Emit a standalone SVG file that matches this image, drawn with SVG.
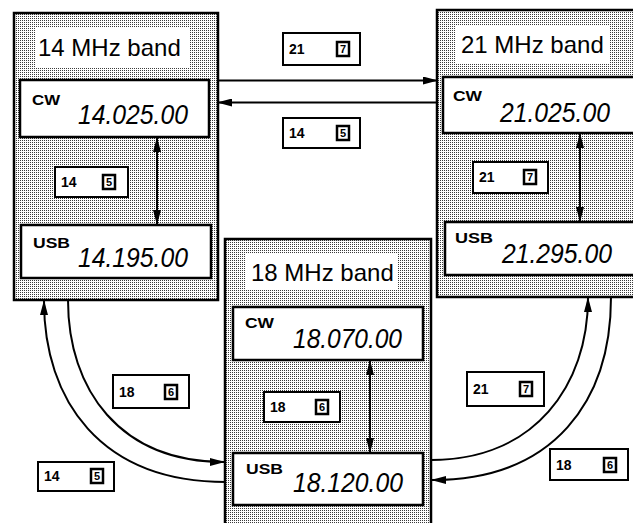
<svg xmlns="http://www.w3.org/2000/svg" width="633" height="523" viewBox="0 0 633 523">
<defs>
<pattern id="dots" width="2" height="2" patternUnits="userSpaceOnUse">
<rect width="2" height="2" fill="#ffffff"/>
<rect width="1" height="1" fill="#3a3a3a"/>
</pattern>
<marker id="ah" viewBox="0 0 15 8" refX="14" refY="4" markerWidth="15" markerHeight="8" markerUnits="userSpaceOnUse" orient="auto-start-reverse">
<path d="M0,0 L15,4 L0,8 Z" fill="#000"/>
</marker>
</defs>
<style>
.panel{fill:url(#dots);stroke:#000;stroke-width:2.5}
.box{fill:#fff;stroke:#000;stroke-width:2.5}
.title{fill:#fff;stroke:none}
.ttl{font-family:"Liberation Sans",Arial,sans-serif;font-size:24px;fill:#000}
.mode{font-family:"Liberation Sans",Arial,sans-serif;font-size:15px;font-weight:bold;fill:#000}
.freq{font-family:"Liberation Sans",Arial,sans-serif;font-size:28px;font-style:italic;fill:#000}
.conn{fill:none;stroke:#000;stroke-width:2}
.lbox{fill:#fff;stroke:#000;stroke-width:2}
.key{fill:#fff;stroke:#000;stroke-width:2.5}
.ln{font-family:"Liberation Sans",Arial,sans-serif;font-size:14px;font-weight:bold;fill:#000}
.kd{font-family:"Liberation Sans",Arial,sans-serif;font-size:11px;font-weight:bold;fill:#000;text-anchor:middle}
</style>

<g id="band14">
<rect class="panel" x="14" y="13" width="204" height="287"/>
<rect class="title" x="35" y="28" width="155" height="39"/>
<text class="ttl" x="38" y="56">14 MHz band</text>
<rect class="box" x="20" y="80" width="189" height="57"/>
<text class="mode" x="32" y="105" textLength="28" lengthAdjust="spacingAndGlyphs">CW</text>
<text class="freq" x="78" y="124" textLength="110" lengthAdjust="spacingAndGlyphs">14.025.00</text>
<rect class="box" x="21" y="225" width="190" height="53"/>
<text class="mode" x="33" y="248" textLength="37" lengthAdjust="spacingAndGlyphs">USB</text>
<text class="freq" x="78" y="267" textLength="110" lengthAdjust="spacingAndGlyphs">14.195.00</text>
</g>

<g id="band21">
<rect class="panel" x="437" y="10" width="200" height="287"/>
<rect class="title" x="456" y="25" width="154" height="38"/>
<text class="ttl" x="461" y="53">21 MHz band</text>
<rect class="box" x="443" y="77" width="195" height="56"/>
<text class="mode" x="453" y="101" textLength="29" lengthAdjust="spacingAndGlyphs">CW</text>
<text class="freq" x="500" y="122" textLength="110" lengthAdjust="spacingAndGlyphs">21.025.00</text>
<rect class="box" x="445" y="222" width="193" height="53"/>
<text class="mode" x="455" y="243" textLength="38" lengthAdjust="spacingAndGlyphs">USB</text>
<text class="freq" x="502" y="263" textLength="110" lengthAdjust="spacingAndGlyphs">21.295.00</text>
</g>

<g id="band18">
<rect class="panel" x="225" y="239" width="206" height="290"/>
<rect class="title" x="245" y="253" width="153" height="37"/>
<text class="ttl" x="251" y="281">18 MHz band</text>
<rect class="box" x="233" y="307" width="190" height="53"/>
<text class="mode" x="245" y="328" textLength="29" lengthAdjust="spacingAndGlyphs">CW</text>
<text class="freq" x="293" y="348" textLength="109" lengthAdjust="spacingAndGlyphs">18.070.00</text>
<rect class="box" x="233" y="453" width="190" height="52"/>
<text class="mode" x="246" y="474" textLength="37" lengthAdjust="spacingAndGlyphs">USB</text>
<text class="freq" x="293" y="492" textLength="110" lengthAdjust="spacingAndGlyphs">18.120.00</text>
</g>

<g id="connectors">
<line class="conn" x1="218" y1="80.5" x2="437" y2="80.5" marker-end="url(#ah)"/>
<line class="conn" x1="437" y1="102.5" x2="218" y2="102.5" marker-end="url(#ah)"/>
<line class="conn" x1="157" y1="138" x2="157" y2="224" marker-start="url(#ah)" marker-end="url(#ah)"/>
<line class="conn" x1="580" y1="134" x2="580" y2="221" marker-start="url(#ah)" marker-end="url(#ah)"/>
<line class="conn" x1="370" y1="361" x2="370" y2="452" marker-start="url(#ah)" marker-end="url(#ah)"/>
<path class="conn" d="M44,301 C44,400 100,482 226,482" marker-start="url(#ah)"/>
<path class="conn" d="M68,300 C68,390 120,462 224,462" marker-end="url(#ah)"/>
<path class="conn" d="M588,298 C588,385 535,460 431,460" marker-start="url(#ah)"/>
<path class="conn" d="M611,297 C611,400 555,480 432,480" marker-end="url(#ah)"/>
</g>

<g id="labels">
<g id="lbl-21-top" transform="translate(283,33)">
<rect class="lbox" width="77" height="32"/><text class="ln" x="6" y="21">21</text>
<rect class="key" x="54" y="9" width="12" height="14"/><text class="kd" x="60" y="20">7</text>
</g>
<g id="lbl-14-top" transform="translate(283,118)">
<rect class="lbox" width="77" height="30"/><text class="ln" x="6" y="20">14</text>
<rect class="key" x="54" y="8" width="12" height="14"/><text class="kd" x="60" y="19">5</text>
</g>
<g id="lbl-14-in" transform="translate(55,167)">
<rect class="lbox" width="73" height="30"/><text class="ln" x="6" y="20">14</text>
<rect class="key" x="48" y="8" width="12" height="14"/><text class="kd" x="54" y="19">5</text>
</g>
<g id="lbl-21-in" transform="translate(473,162)">
<rect class="lbox" width="75" height="31"/><text class="ln" x="6" y="20">21</text>
<rect class="key" x="51" y="8" width="12" height="14"/><text class="kd" x="57" y="19">7</text>
</g>
<g id="lbl-18-in" transform="translate(264,392)">
<rect class="lbox" width="76" height="30"/><text class="ln" x="6" y="20">18</text>
<rect class="key" x="52" y="8" width="12" height="14"/><text class="kd" x="58" y="19">6</text>
</g>
<g id="lbl-18-left" transform="translate(113,375)">
<rect class="lbox" width="76" height="33"/><text class="ln" x="6" y="22">18</text>
<rect class="key" x="52" y="10" width="12" height="14"/><text class="kd" x="58" y="21">6</text>
</g>
<g id="lbl-14-left" transform="translate(38,462)">
<rect class="lbox" width="76" height="29"/><text class="ln" x="6" y="19">14</text>
<rect class="key" x="53" y="7" width="12" height="14"/><text class="kd" x="59" y="18">5</text>
</g>
<g id="lbl-21-right" transform="translate(467,372)">
<rect class="lbox" width="77" height="34"/><text class="ln" x="6" y="22">21</text>
<rect class="key" x="53" y="10" width="12" height="14"/><text class="kd" x="59" y="21">7</text>
</g>
<g id="lbl-18-right" transform="translate(550,449)">
<rect class="lbox" width="78" height="31"/><text class="ln" x="6" y="21">18</text>
<rect class="key" x="54" y="9" width="12" height="14"/><text class="kd" x="60" y="20">6</text>
</g>
</g>
</svg>
